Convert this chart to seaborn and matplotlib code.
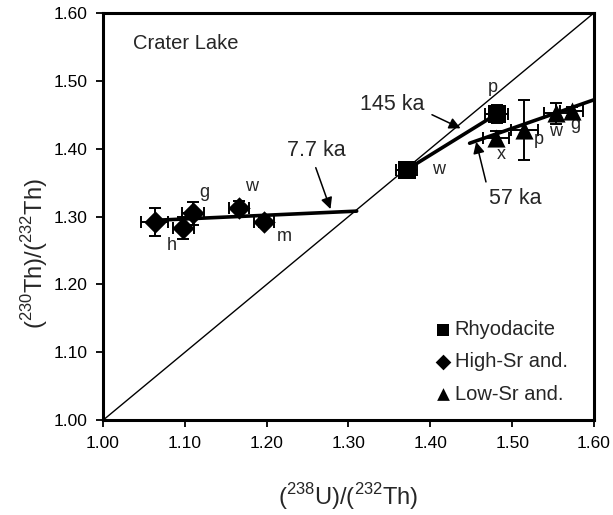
import numpy as np
import pandas as pd
import matplotlib
matplotlib.use("Agg")
import matplotlib.pyplot as plt
import seaborn as sns

# sample data: (238U)/(232Th), (230Th)/(232Th), errors
rhy_x = [1.371, 1.481]
rhy_y = [1.369, 1.451]
rhy_xerr = [0.013, 0.014]
rhy_yerr = [0.004, 0.013]
rhy_names = ["w", "p"]

hsr_x = [1.063, 1.098, 1.110, 1.166, 1.197]
hsr_y = [1.292, 1.283, 1.305, 1.312, 1.292]
hsr_xerr = [0.016, 0.013, 0.013, 0.012, 0.012]
hsr_yerr = [0.020, 0.016, 0.017, 0.011, 0.007]
hsr_names = ["", "h", "g", "w", "m"]

lsr_x = [1.480, 1.515, 1.554, 1.573]
lsr_y = [1.415, 1.428, 1.452, 1.455]
lsr_xerr = [0.016, 0.017, 0.015, 0.014]
lsr_yerr = [0.011, 0.044, 0.015, 0.007]
lsr_names = ["x", "p", "w", "g"]

# isochron lines (endpoints)
hsr_line_x = [1.073, 1.310]
hsr_line_y = [1.295, 1.308]
rhy_line_x = [1.371, 1.481]
rhy_line_y = [1.369, 1.451]
lsr_line_x = [1.448, 1.600]
lsr_line_y = [1.408, 1.472]
equi_x = [1.0, 1.6]

# label positions for sample names
hsr_label_pos = [None, (1.084, 1.258), (1.124, 1.335), (1.181, 1.344), (1.222, 1.270)]
rhy_label_pos = [(1.410, 1.369), (1.476, 1.490)]
lsr_label_pos = [(1.487, 1.391), (1.533, 1.413), (1.553, 1.425), (1.577, 1.435)]

# age labels: text, text position, arrow tail, arrow tip
ages = ["7.7 ka", "145 ka", "57 ka"]
age_text_pos = [(1.261, 1.397), (1.354, 1.465), (1.504, 1.327)]
age_tail = [(1.260, 1.372), (1.402, 1.450), (1.468, 1.351)]
age_tip = [(1.278, 1.311), (1.437, 1.430), (1.456, 1.410)]

sns.set_theme(style="ticks")
plt.rcParams['font.family'] = ['Liberation Sans', 'DejaVu Sans']
plt.rcParams['mathtext.fontset'] = 'custom'
plt.rcParams['mathtext.rm'] = 'Liberation Sans'

fig = plt.figure(figsize=(6.13, 5.15), dpi=100)
ax = fig.add_axes([0.168, 0.184, 0.801, 0.791])

# 1:1 equiline
ax.plot(equi_x, equi_x, color="black", lw=1.0)

# isochrons
ax.plot(hsr_line_x, hsr_line_y, color="black", lw=2.6)
ax.plot(rhy_line_x, rhy_line_y, color="black", lw=2.6)
ax.plot(lsr_line_x, lsr_line_y, color="black", lw=2.6)

df = pd.concat([
    pd.DataFrame({"x": rhy_x, "y": rhy_y, "xe": rhy_xerr, "ye": rhy_yerr, "group": "Rhyodacite"}),
    pd.DataFrame({"x": hsr_x, "y": hsr_y, "xe": hsr_xerr, "ye": hsr_yerr, "group": "High-Sr and."}),
    pd.DataFrame({"x": lsr_x, "y": lsr_y, "xe": lsr_xerr, "ye": lsr_yerr, "group": "Low-Sr and."}),
], ignore_index=True)

ax.errorbar(df["x"], df["y"], xerr=df["xe"], yerr=df["ye"], fmt="none",
            ecolor="black", elinewidth=1.4, capsize=4, capthick=1.4, zorder=3)

markers = {"Rhyodacite": "s", "High-Sr and.": "D", "Low-Sr and.": "^"}
sizes = {"Rhyodacite": 150, "High-Sr and.": 130, "Low-Sr and.": 170}
for grp in markers:
    sub = df[df["group"] == grp]
    sns.scatterplot(data=sub, x="x", y="y", marker=markers[grp], s=sizes[grp],
                    color="black", edgecolor="black", linewidth=0, ax=ax,
                    label=grp, zorder=4)

# sample labels
for names, pos in [(hsr_names, hsr_label_pos), (rhy_names, rhy_label_pos), (lsr_names, lsr_label_pos)]:
    for n, p in zip(names, pos):
        if p is not None and n:
            ax.text(p[0], p[1], n, fontsize=13, ha="center", va="center")

# age annotations
for label, tp, tail, tip in zip(ages, age_text_pos, age_tail, age_tip):
    ax.text(tp[0], tp[1], label, fontsize=15.5, ha="center", va="center")
    ax.annotate("", xy=tip, xytext=tail,
                arrowprops=dict(arrowstyle="-|>", color="black", lw=1.1,
                                mutation_scale=17, shrinkA=0, shrinkB=0))

ax.text(1.037, 1.555, "Crater Lake", fontsize=14.5, ha="left", va="center")

ax.set_xlim(1.0, 1.6)
ax.set_ylim(1.0, 1.6)
ticks = [1.00, 1.10, 1.20, 1.30, 1.40, 1.50, 1.60]
ax.set_xticks(ticks)
ax.set_yticks(ticks)
ax.set_xticklabels([f"{t:.2f}" for t in ticks], fontsize=12.5)
ax.set_yticklabels([f"{t:.2f}" for t in ticks], fontsize=12.5)
ax.tick_params(direction="out", length=5, width=1.3, pad=6, colors="black")

for s in ax.spines.values():
    s.set_linewidth(2.2)
    s.set_color("black")

ax.set_xlabel(r"($^{238}$U)/($^{232}$Th)", fontsize=17, labelpad=22)
ax.set_ylabel(r"($^{230}$Th)/($^{232}$Th)", fontsize=17)
ax.yaxis.set_label_coords(-0.108, 0.41)

leg = ax.legend(loc="upper left", bbox_to_anchor=(0.655, 0.265), frameon=False,
                fontsize=14.5, handletextpad=0.1, labelspacing=0.65,
                handlelength=1.0, markerscale=0.7, borderaxespad=0)

fig.savefig("out.png", dpi=100)
